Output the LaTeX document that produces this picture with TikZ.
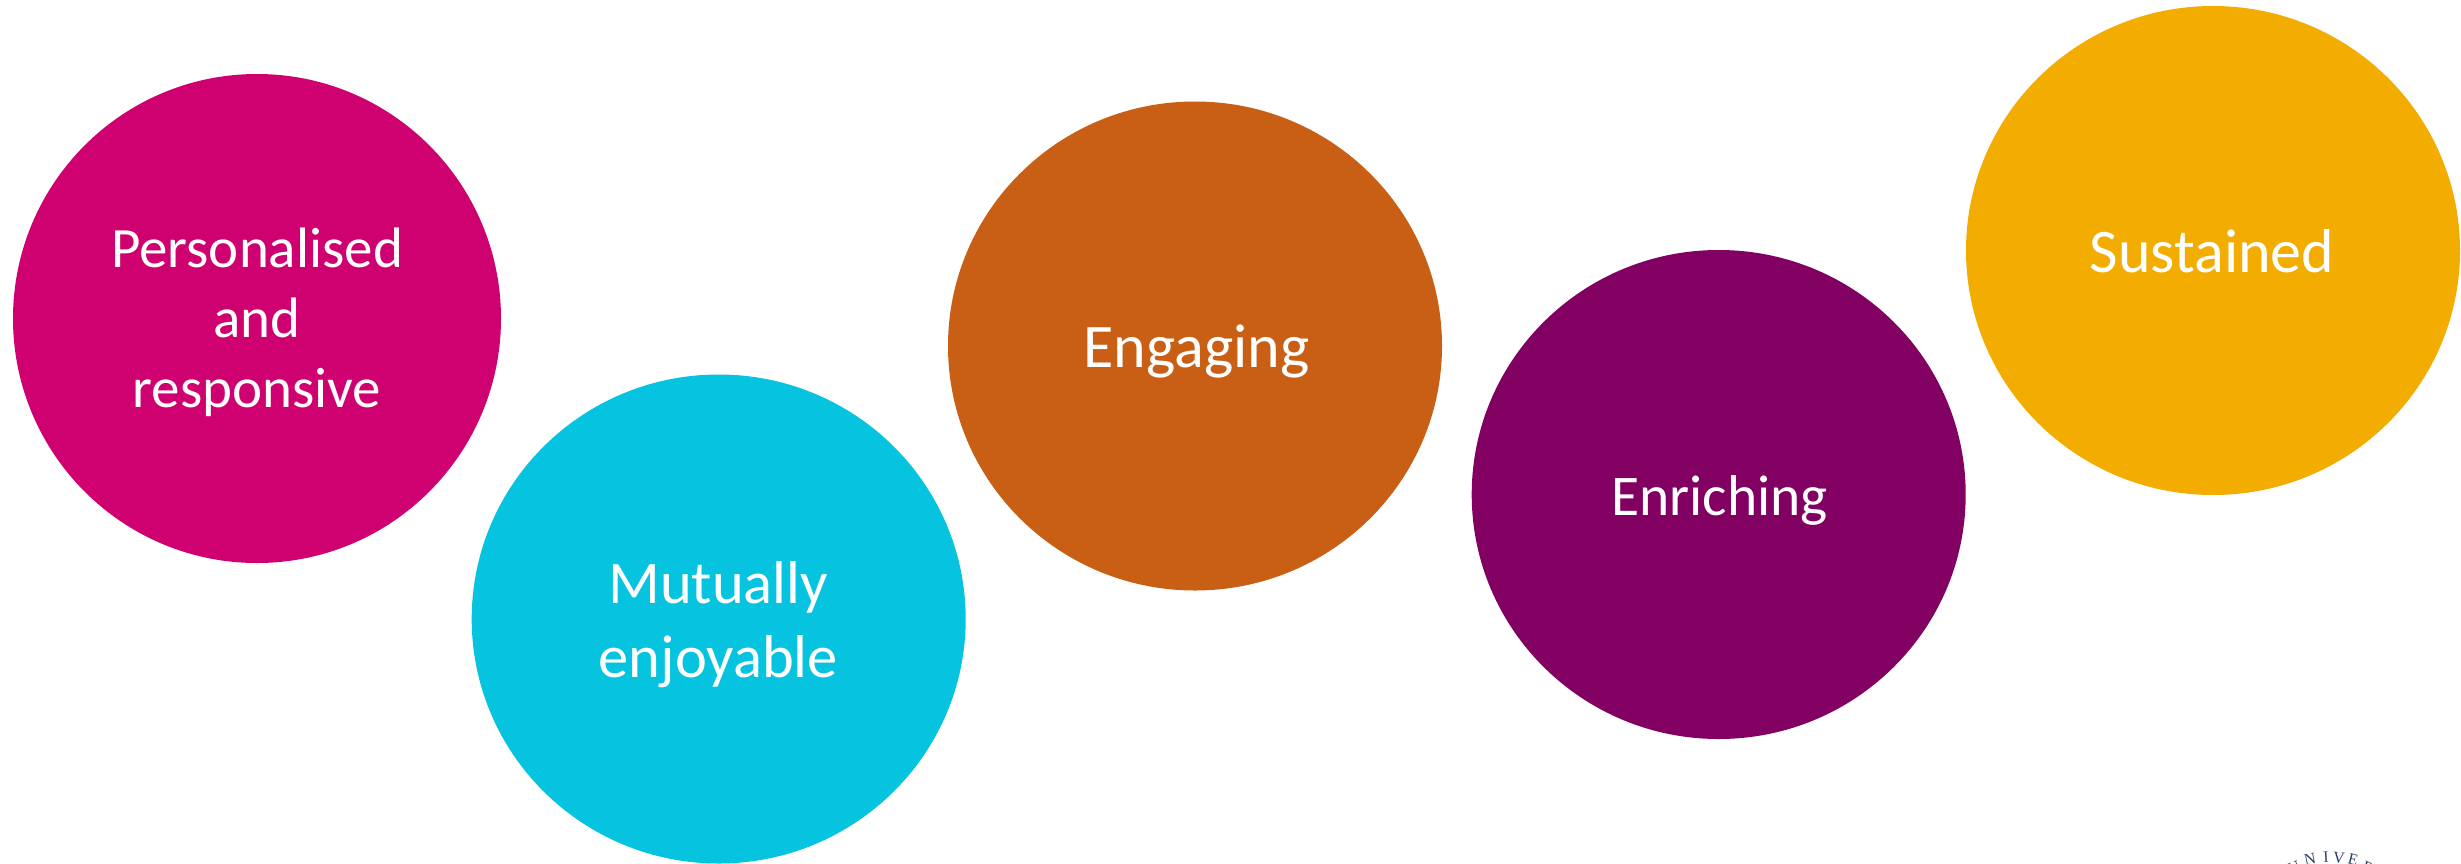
\documentclass[tikz,border=0pt]{standalone}
\usepackage{fontspec}
\setmainfont{Carlito}[Ligatures=NoCommon]
\newfontfamily\crestfont{Liberation Serif}
\usetikzlibrary{shapes.geometric}
\definecolor{cMagenta}{HTML}{CF006F}
\definecolor{cCyan}{HTML}{06C3E0}
\definecolor{cOrange}{HTML}{C95F14}
\definecolor{cPurple}{HTML}{830063}
\definecolor{cAmber}{HTML}{F3AC00}
\definecolor{cNavy}{HTML}{2A3F5F}
\tikzset{
  blob/.style={ellipse,inner sep=0pt,outer sep=0pt,minimum width=494pt,minimum height=489pt},
  lbl/.style={text=white,inner sep=0pt,outer sep=0pt,align=center,font=\fontsize{#1}{70}\selectfont},
  lbl/.default=57,
  crest/.style={text=cNavy,inner sep=0pt,outer sep=0pt,font=\crestfont\fontsize{16}{16}\selectfont}
}
\begin{document}
\begin{tikzpicture}[x=1pt,y=-1pt]
\useasboundingbox (0,0) rectangle (2461,863);
\clip (0,0) rectangle (2461,863);
\node[blob,fill=cMagenta,minimum width=488pt] (personal) at (257,318.5) {};
\node[blob,fill=cCyan] (mutual) at (718.7,619) {};
\node[blob,fill=cOrange] (engage) at (1195,346) {};
\node[blob,fill=cPurple] (enrich) at (1718.7,494.5) {};
\node[blob,fill=cAmber] (sustain) at (2213,250.5) {};
\node[lbl] (tpersonal) at (257,322.5) {Personalised\\and\\responsive};
\node[lbl=60.5] (tmutual) at (718.3,625) {Mutually\\[4pt]enjoyable};
\node[lbl=62,anchor=base] (tengage) at (1196.5,367) {Engaging};
\node[lbl=57.5,anchor=base] (tenrich) at (1719.5,515) {Enriching};
\node[lbl=62,anchor=base] (tsustain) at (2212,272) {Sustained};
\node[crest,rotate=22] (c1) at (2294,868) {U};
\node[crest,rotate=11] (c2) at (2310,859) {N};
\node[crest,rotate=3] (c3) at (2326,857) {I};
\node[crest,rotate=-6] (c4) at (2339,858) {V};
\node[crest,rotate=-14] (c5) at (2353,860) {E};
\node[crest,rotate=-22] (c6) at (2368,868) {R};
\end{tikzpicture}
\end{document}
